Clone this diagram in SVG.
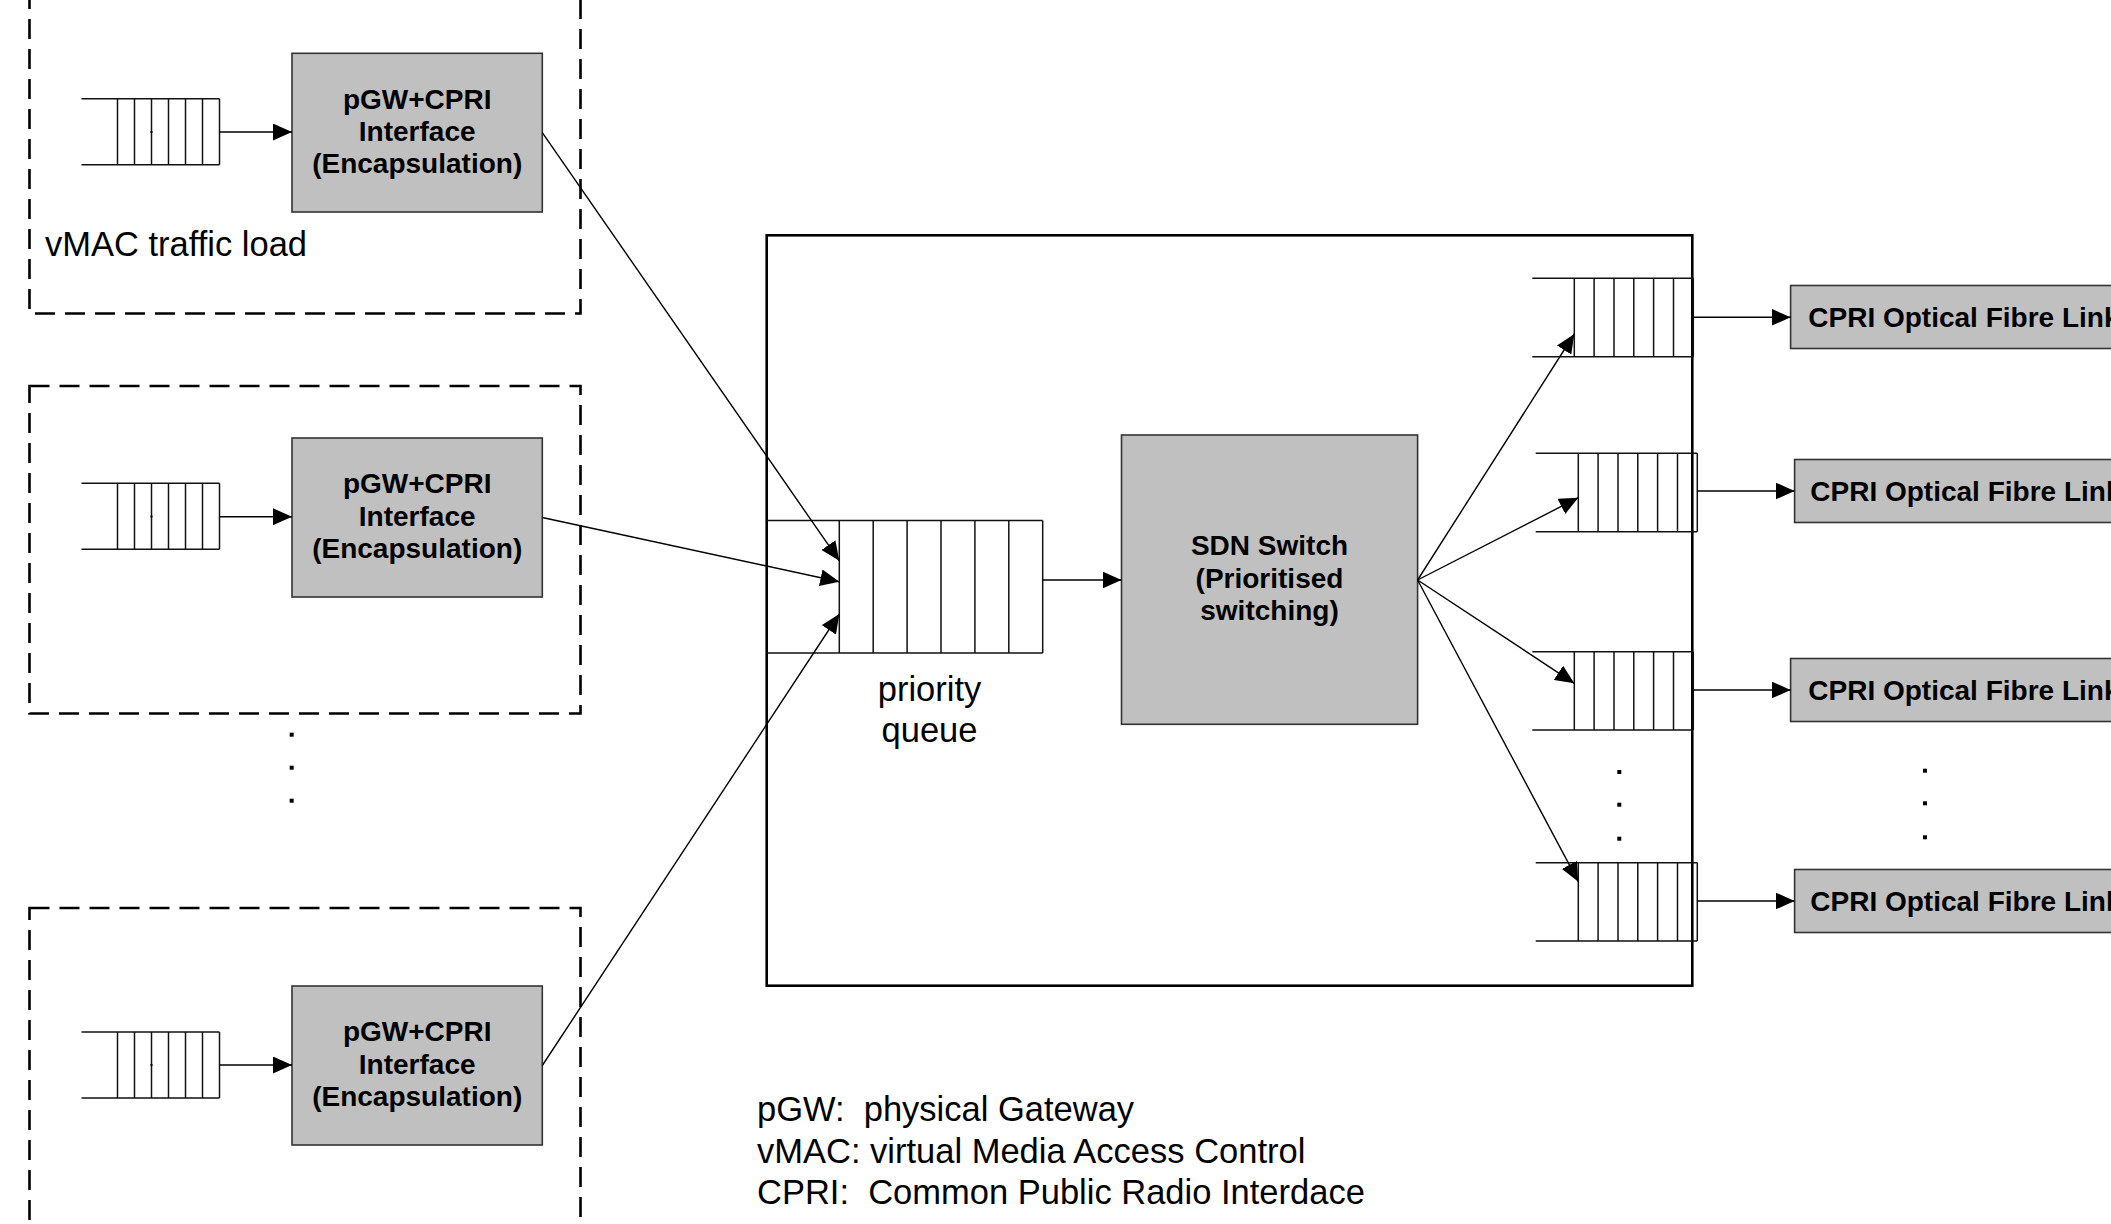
<svg xmlns="http://www.w3.org/2000/svg" width="2111" height="1224" viewBox="0 0 2111 1224">
<style>
.dash{fill:none;stroke:#000;stroke-width:2.6;stroke-dasharray:20 10}
.gbox{fill:#c0c0c0;stroke:#333;stroke-width:1.6}
.q{stroke:#111;stroke-width:1.5;fill:none}
.qf{fill:#fff;stroke:none}
.con{stroke:#000;stroke-width:1.4;fill:none}
.b{font-family:"Liberation Sans",Arial,sans-serif;font-weight:bold;font-size:28px;fill:#000}
.r{font-family:"Liberation Sans",Arial,sans-serif;font-size:34.5px;fill:#000}
.mid{text-anchor:middle}
.dot{fill:#000}
</style>
<defs>
<marker id="ah" markerWidth="20" markerHeight="17" refX="19" refY="8.5" orient="auto" markerUnits="userSpaceOnUse">
<path d="M0,0 L19,8.5 L0,17 z" fill="#000"/>
</marker>
</defs>
<rect x="0" y="0" width="2111" height="1224" fill="#fff"/>

<g id="group1">
<rect class="dash" x="29.5" y="-20" width="551" height="333.5"/>
<g id="queue1" class="q">
<line x1="81.5" y1="98.7" x2="219.5" y2="98.7"/><line x1="81.5" y1="164.7" x2="219.5" y2="164.7"/>
<line x1="117.5" y1="98.7" x2="117.5" y2="164.7"/><line x1="134.5" y1="98.7" x2="134.5" y2="164.7"/><line x1="151.5" y1="98.7" x2="151.5" y2="164.7"/><line x1="168.5" y1="98.7" x2="168.5" y2="164.7"/><line x1="185.5" y1="98.7" x2="185.5" y2="164.7"/><line x1="202.5" y1="98.7" x2="202.5" y2="164.7"/><line x1="219.5" y1="98.7" x2="219.5" y2="164.7"/>
</g>
<rect class="dot" x="150.5" y="131" width="2" height="2"/>
<g id="pgw1">
<rect class="gbox" x="292" y="53.3" width="250.3" height="158.7"/>
<text class="b mid" x="417.2" y="108.5">pGW+CPRI</text>
<text class="b mid" x="417.2" y="141">Interface</text>
<text class="b mid" x="417.2" y="173">(Encapsulation)</text>
</g>
<text class="r" x="45" y="256">vMAC traffic load</text>
</g>

<g id="group2">
<rect class="dash" x="29.5" y="386" width="551" height="327.5"/>
<g id="queue2" class="q">
<line x1="81.5" y1="483.3" x2="219.5" y2="483.3"/><line x1="81.5" y1="549.3" x2="219.5" y2="549.3"/>
<line x1="117.5" y1="483.3" x2="117.5" y2="549.3"/><line x1="134.5" y1="483.3" x2="134.5" y2="549.3"/><line x1="151.5" y1="483.3" x2="151.5" y2="549.3"/><line x1="168.5" y1="483.3" x2="168.5" y2="549.3"/><line x1="185.5" y1="483.3" x2="185.5" y2="549.3"/><line x1="202.5" y1="483.3" x2="202.5" y2="549.3"/><line x1="219.5" y1="483.3" x2="219.5" y2="549.3"/>
</g>
<rect class="dot" x="150.5" y="515.5" width="2" height="2"/>
<g id="pgw2">
<rect class="gbox" x="292" y="438" width="250.3" height="159"/>
<text class="b mid" x="417.2" y="493.3">pGW+CPRI</text>
<text class="b mid" x="417.2" y="525.8">Interface</text>
<text class="b mid" x="417.2" y="557.8">(Encapsulation)</text>
</g>
</g>

<g id="leftdots">
<rect class="dot" x="289.7" y="732.7" width="4" height="4"/>
<rect class="dot" x="289.7" y="765.7" width="4" height="4"/>
<rect class="dot" x="289.7" y="798.7" width="4" height="4"/>
</g>

<g id="group3">
<rect class="dash" x="29.5" y="908" width="551" height="340"/>
<g id="queue3" class="q">
<line x1="81.5" y1="1032" x2="219.5" y2="1032"/><line x1="81.5" y1="1098" x2="219.5" y2="1098"/>
<line x1="117.5" y1="1032" x2="117.5" y2="1098"/><line x1="134.5" y1="1032" x2="134.5" y2="1098"/><line x1="151.5" y1="1032" x2="151.5" y2="1098"/><line x1="168.5" y1="1032" x2="168.5" y2="1098"/><line x1="185.5" y1="1032" x2="185.5" y2="1098"/><line x1="202.5" y1="1032" x2="202.5" y2="1098"/><line x1="219.5" y1="1032" x2="219.5" y2="1098"/>
</g>
<rect class="dot" x="150.5" y="1064" width="2" height="2"/>
<g id="pgw3">
<rect class="gbox" x="292" y="986" width="250.3" height="159"/>
<text class="b mid" x="417.2" y="1041.3">pGW+CPRI</text>
<text class="b mid" x="417.2" y="1073.8">Interface</text>
<text class="b mid" x="417.2" y="1105.8">(Encapsulation)</text>
</g>
</g>

<g id="sdnbox">
<rect x="766.7" y="235.3" width="925.6" height="750.4" fill="none" stroke="#000" stroke-width="2.6"/>
</g>

<g id="priorityqueue" class="q">
<line x1="766.7" y1="520.5" x2="1042.7" y2="520.5"/><line x1="766.7" y1="653" x2="1042.7" y2="653"/>
<line x1="839.3" y1="520.5" x2="839.3" y2="653"/><line x1="873.2" y1="520.5" x2="873.2" y2="653"/><line x1="907.1" y1="520.5" x2="907.1" y2="653"/><line x1="941" y1="520.5" x2="941" y2="653"/><line x1="974.9" y1="520.5" x2="974.9" y2="653"/><line x1="1008.8" y1="520.5" x2="1008.8" y2="653"/><line x1="1042.7" y1="520.5" x2="1042.7" y2="653"/>
</g>
<text class="r mid" x="929.5" y="701">priority</text>
<text class="r mid" x="929.5" y="742">queue</text>

<g id="sdnswitch">
<rect class="gbox" x="1121.5" y="435" width="296.1" height="289.3"/>
<text class="b mid" x="1269.5" y="555">SDN Switch</text>
<text class="b mid" x="1269.5" y="587.8">(Prioritised</text>
<text class="b mid" x="1269.5" y="620.3">switching)</text>
</g>

<g id="outqueue1" class="q">
<line x1="1532.3" y1="278.3" x2="1693.3" y2="278.3"/><line x1="1532.3" y1="356.7" x2="1693.3" y2="356.7"/>
<line x1="1574.3" y1="278.3" x2="1574.3" y2="356.7"/><line x1="1594.1" y1="278.3" x2="1594.1" y2="356.7"/><line x1="1614" y1="278.3" x2="1614" y2="356.7"/><line x1="1633.8" y1="278.3" x2="1633.8" y2="356.7"/><line x1="1653.6" y1="278.3" x2="1653.6" y2="356.7"/><line x1="1673.5" y1="278.3" x2="1673.5" y2="356.7"/><line x1="1693.3" y1="278.3" x2="1693.3" y2="356.7"/>
</g>
<g id="outqueue2" class="q">
<line x1="1535.7" y1="453.3" x2="1697.3" y2="453.3"/><line x1="1535.7" y1="531.7" x2="1697.3" y2="531.7"/>
<line x1="1578.3" y1="453.3" x2="1578.3" y2="531.7"/><line x1="1598.1" y1="453.3" x2="1598.1" y2="531.7"/><line x1="1618" y1="453.3" x2="1618" y2="531.7"/><line x1="1637.8" y1="453.3" x2="1637.8" y2="531.7"/><line x1="1657.6" y1="453.3" x2="1657.6" y2="531.7"/><line x1="1677.5" y1="453.3" x2="1677.5" y2="531.7"/><line x1="1697.3" y1="453.3" x2="1697.3" y2="531.7"/>
</g>
<g id="outqueue3" class="q">
<line x1="1532.3" y1="651.7" x2="1693.3" y2="651.7"/><line x1="1532.3" y1="730" x2="1693.3" y2="730"/>
<line x1="1574.3" y1="651.7" x2="1574.3" y2="730"/><line x1="1594.1" y1="651.7" x2="1594.1" y2="730"/><line x1="1614" y1="651.7" x2="1614" y2="730"/><line x1="1633.8" y1="651.7" x2="1633.8" y2="730"/><line x1="1653.6" y1="651.7" x2="1653.6" y2="730"/><line x1="1673.5" y1="651.7" x2="1673.5" y2="730"/><line x1="1693.3" y1="651.7" x2="1693.3" y2="730"/>
</g>
<g id="outqueue4" class="q">
<line x1="1535.7" y1="862.7" x2="1697.3" y2="862.7"/><line x1="1535.7" y1="941" x2="1697.3" y2="941"/>
<line x1="1578.3" y1="862.7" x2="1578.3" y2="941"/><line x1="1598.1" y1="862.7" x2="1598.1" y2="941"/><line x1="1618" y1="862.7" x2="1618" y2="941"/><line x1="1637.8" y1="862.7" x2="1637.8" y2="941"/><line x1="1657.6" y1="862.7" x2="1657.6" y2="941"/><line x1="1677.5" y1="862.7" x2="1677.5" y2="941"/><line x1="1697.3" y1="862.7" x2="1697.3" y2="941"/>
</g>
<g id="queuedots">
<rect class="dot" x="1617.3" y="770" width="4" height="4"/>
<rect class="dot" x="1617.3" y="802.7" width="4" height="4"/>
<rect class="dot" x="1617.3" y="836.7" width="4" height="4"/>
</g>

<g id="cpri1">
<rect class="gbox" x="1790.6" y="285.5" width="400" height="63"/>
<text class="b" x="1808.3" y="327.3">CPRI Optical Fibre Link</text>
</g>
<g id="cpri2">
<rect class="gbox" x="1794.6" y="459.5" width="400" height="63"/>
<text class="b" x="1810.3" y="501">CPRI Optical Fibre Link</text>
</g>
<g id="cpri3">
<rect class="gbox" x="1790.6" y="658.5" width="400" height="63"/>
<text class="b" x="1808.3" y="700">CPRI Optical Fibre Link</text>
</g>
<g id="cpri4">
<rect class="gbox" x="1794.6" y="869.5" width="400" height="63"/>
<text class="b" x="1810.3" y="911">CPRI Optical Fibre Link</text>
</g>
<g id="cpridots">
<rect class="dot" x="1923" y="768.7" width="4" height="4"/>
<rect class="dot" x="1923" y="801.3" width="4" height="4"/>
<rect class="dot" x="1923" y="835.3" width="4" height="4"/>
</g>

<g id="legend">
<text class="r" x="757" y="1121" xml:space="preserve">pGW:  physical Gateway</text>
<text class="r" x="757" y="1162.5">vMAC: virtual Media Access Control</text>
<text class="r" x="757" y="1203.5" xml:space="preserve">CPRI:  Common Public Radio Interdace</text>
</g>

<g id="connectors" class="con" marker-end="url(#ah)">
<line x1="219.5" y1="132" x2="292" y2="132"/>
<line x1="219.5" y1="516.7" x2="292" y2="516.7"/>
<line x1="219.5" y1="1065" x2="292" y2="1065"/>
<line x1="542.3" y1="132.7" x2="839.3" y2="560.7"/>
<line x1="542.3" y1="517.5" x2="839.3" y2="581.7"/>
<line x1="542.3" y1="1065.5" x2="839.3" y2="614"/>
<line x1="1042.7" y1="580" x2="1121.5" y2="580"/>
<line x1="1417.6" y1="580" x2="1574.3" y2="334"/>
<line x1="1417.6" y1="580" x2="1578.3" y2="497.7"/>
<line x1="1417.6" y1="580" x2="1574.3" y2="683.3"/>
<line x1="1417.6" y1="580" x2="1578.3" y2="881.7"/>
<line x1="1693.3" y1="317.3" x2="1790.6" y2="317.3"/>
<line x1="1697.3" y1="491" x2="1794.6" y2="491"/>
<line x1="1693.3" y1="690" x2="1790.6" y2="690"/>
<line x1="1697.3" y1="901" x2="1794.6" y2="901"/>
</g>
</svg>
